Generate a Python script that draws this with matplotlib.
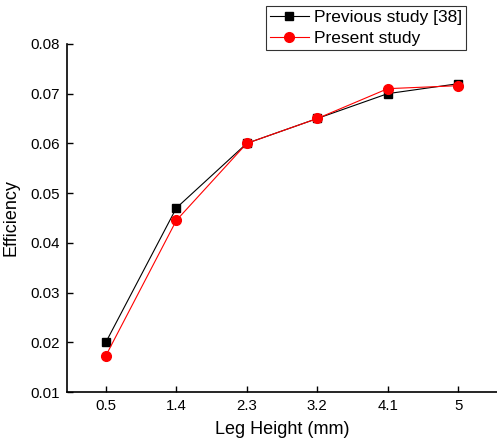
import matplotlib
matplotlib.use("Agg")
import matplotlib.pyplot as plt
import numpy as np

plt.rcParams['font.family'] = ['Liberation Sans', 'DejaVu Sans']

leg_height = ['0.5', '1.4', '2.3', '3.2', '4.1', '5']
previous_study = [0.0200, 0.0470, 0.0600, 0.0650, 0.0700, 0.0720]
present_study = [0.0173, 0.0445, 0.0600, 0.0650, 0.0710, 0.0716]

fig = plt.figure(figsize=(4.97, 4.48), dpi=100)
ax = fig.add_axes([0.135, 0.125, 0.865, 0.777])

x = np.arange(len(leg_height))
ax.plot(x, previous_study, color='black', marker='s', markersize=6, linewidth=0.8,
        label='Previous study [38]')
ax.plot(x, present_study, color='red', marker='o', markersize=7, linewidth=0.8,
        label='Present study')

ax.set_xlim(-0.55, 5.55)
ax.set_ylim(0.01, 0.08)
ax.set_xticks(x)
ax.set_xticklabels(leg_height)
ax.set_yticks(np.arange(0.01, 0.0801, 0.01))
ax.set_yticklabels(['%.2f' % v for v in np.arange(0.01, 0.0801, 0.01)])
ax.tick_params(direction='in', length=4.5, width=1, labelsize=10.8, pad=5)
ax.spines['top'].set_visible(False)
ax.spines['right'].set_visible(False)
ax.spines['left'].set_linewidth(1.2)
ax.spines['bottom'].set_linewidth(1.2)

ax.set_xlabel('Leg Height (mm)', fontsize=13, labelpad=6)
ax.set_ylabel('Efficiency', fontsize=13, labelpad=8)

leg = fig.legend(loc='upper right', bbox_to_anchor=(0.938, 0.987), fontsize=12.5,
                 frameon=True, fancybox=False, edgecolor='black',
                 handlelength=2.2, borderpad=0.25, labelspacing=0.3, handletextpad=0.3,
                 borderaxespad=0)
leg.get_frame().set_linewidth(0.8)

fig.savefig('out.png', dpi=100)
